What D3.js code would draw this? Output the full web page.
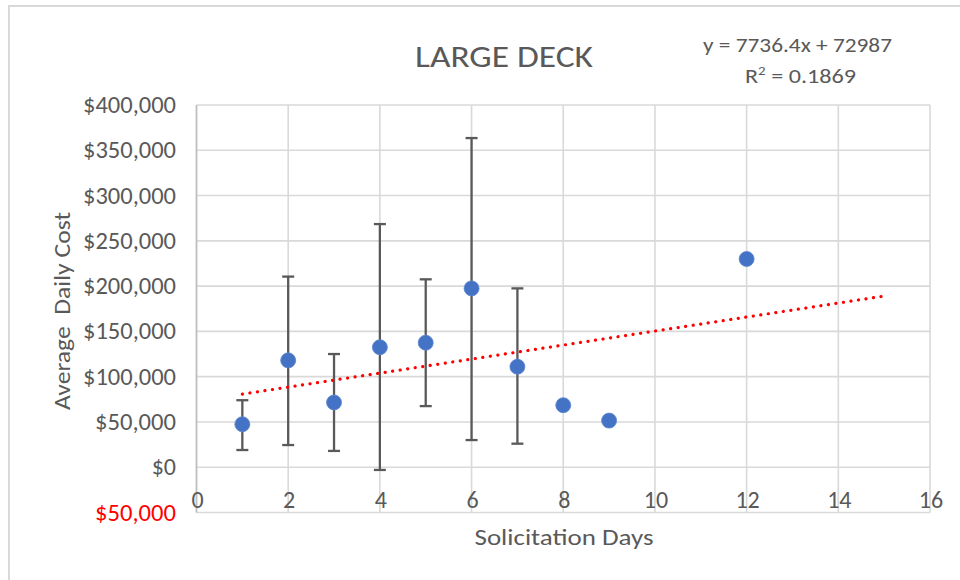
<!DOCTYPE html>
<html>
<head>
<meta charset="utf-8">
<script src="https://cdn.jsdelivr.net/npm/d3@7"></script>
<style>
  html, body { margin: 0; padding: 0; background: #ffffff; }
  svg { display: block; }
  text { font-family: Carlito, Calibri, "Liberation Sans", Arial, sans-serif; fill: #595959; }
</style>
</head>
<body>
<svg id="chart" width="960" height="580"></svg>
<script>
// ---- data ----
const titleText = "LARGE DECK";
const xAxisTitle = "Solicitation Days";
const yAxisTitle = "Average  Daily Cost";
const days = [1, 2, 3, 4, 5, 6, 7, 8, 9, 12];
const avgCost = [47500, 118000, 71500, 132500, 137500, 197500, 111000, 68500, 51500, 230000];
const errHigh = [74000, 210500, 125000, 268500, 207500, 363500, 197500, null, null, null];
const errLow  = [19000, 24500, 18000, -3000, 67500, 30000, 26000, null, null, null];
const xTicks = [0, 2, 4, 6, 8, 10, 12, 14, 16];
const yTicks = [-50000, 0, 50000, 100000, 150000, 200000, 250000, 300000, 350000, 400000];
const trendSlope = 7736.4;
const trendIntercept = 72987;
const trendRange = [1, 15];
const equationText = "y = 7736.4x + 72987";
const r2Value = "0.1869";

// ---- layout ----
const svg = d3.select("#chart");
const plot = { left: 196.5, right: 930, top: 105, bottom: 512.5 };

const x = d3.scaleLinear().domain([0, 16]).range([plot.left, plot.right]);
const y = d3.scaleLinear().domain([-50000, 400000]).range([plot.bottom, plot.top]);

// outer chart border
svg.append("rect")
  .attr("x", 9).attr("y", 6).attr("width", 1000).attr("height", 1000)
  .attr("fill", "none").attr("stroke", "#d9d9d9").attr("stroke-width", 2);

// gridlines
const grid = svg.append("g");
grid.selectAll("line.h").data(yTicks).join("line")
  .attr("x1", plot.left).attr("x2", plot.right)
  .attr("y1", d => y(d)).attr("y2", d => y(d))
  .attr("stroke", "#d9d9d9").attr("stroke-width", 1.6);
grid.selectAll("line.v").data(xTicks).join("line")
  .attr("y1", plot.top).attr("y2", plot.bottom)
  .attr("x1", d => x(d)).attr("x2", d => x(d))
  .attr("stroke", "#d9d9d9").attr("stroke-width", 1.6);
// left axis line
svg.append("line")
  .attr("x1", plot.left).attr("x2", plot.left)
  .attr("y1", plot.top).attr("y2", plot.bottom)
  .attr("stroke", "#bfbfbf").attr("stroke-width", 1.6);

// y tick labels
const fmt = d3.format("$,");
svg.append("g").selectAll("text").data(yTicks).join("text")
  .attr("x", 176).attr("y", d => y(d) + 8)
  .attr("text-anchor", "end")
  .attr("textLength", d => d === 0 ? null : (Math.abs(d) >= 100000 ? 93 : 81))
  .attr("lengthAdjust", "spacingAndGlyphs")
  .style("font-size", "24px")
  .style("fill", d => d < 0 ? "#ff0000" : "#595959")
  .text(d => fmt(Math.abs(d)));

// x tick labels
svg.append("g").selectAll("text").data(xTicks).join("text")
  .attr("x", d => x(d) + 1).attr("y", 508)
  .attr("text-anchor", "middle")
  .style("font-size", "24px")
  .text(d => d);

// error bars
const eb = days.map((d, i) => ({ x: d, hi: errHigh[i], lo: errLow[i] })).filter(d => d.hi !== null);
const ebG = svg.append("g").attr("stroke", "#595959").attr("stroke-width", 2.3);
ebG.selectAll("line.stem").data(eb).join("line")
  .attr("x1", d => x(d.x)).attr("x2", d => x(d.x))
  .attr("y1", d => y(d.hi)).attr("y2", d => y(d.lo));
ebG.selectAll("line.capHi").data(eb).join("line")
  .attr("x1", d => x(d.x) - 6).attr("x2", d => x(d.x) + 6)
  .attr("y1", d => y(d.hi)).attr("y2", d => y(d.hi));
ebG.selectAll("line.capLo").data(eb).join("line")
  .attr("x1", d => x(d.x) - 6).attr("x2", d => x(d.x) + 6)
  .attr("y1", d => y(d.lo)).attr("y2", d => y(d.lo));

// trendline
svg.append("line")
  .attr("x1", x(trendRange[0])).attr("y1", y(trendSlope * trendRange[0] + trendIntercept))
  .attr("x2", x(trendRange[1])).attr("y2", y(trendSlope * trendRange[1] + trendIntercept))
  .attr("stroke", "#ff0000").attr("stroke-width", 3.2)
  .attr("stroke-linecap", "round").attr("stroke-dasharray", "0.1 7.5");

// points
svg.append("g").selectAll("circle").data(days.map((d, i) => [d, avgCost[i]])).join("circle")
  .attr("cx", d => x(d[0])).attr("cy", d => y(d[1]))
  .attr("r", 7.5)
  .attr("fill", "#4472c4").attr("stroke", "#5b85cf").attr("stroke-width", 0.8);

// title
svg.append("text")
  .attr("x", 504).attr("y", 67).attr("text-anchor", "middle")
  .attr("textLength", 178).attr("lengthAdjust", "spacingAndGlyphs")
  .style("font-size", "30px")
  .text(titleText);

// equation
svg.append("text")
  .attr("x", 797.5).attr("y", 52).attr("text-anchor", "middle")
  .attr("textLength", 189).attr("lengthAdjust", "spacingAndGlyphs")
  .style("font-size", "21px")
  .text(equationText);
const r2 = svg.append("text")
  .attr("x", 800.5).attr("y", 83).attr("text-anchor", "middle")
  .attr("textLength", 111).attr("lengthAdjust", "spacingAndGlyphs")
  .style("font-size", "21px");
r2.append("tspan").text("R");
r2.append("tspan").attr("dy", -8).style("font-size", "13px").text("2");
r2.append("tspan").attr("dy", 8).text(" = " + r2Value);

// axis titles
svg.append("text")
  .attr("x", 564).attr("y", 545).attr("text-anchor", "middle")
  .attr("textLength", 179).attr("lengthAdjust", "spacingAndGlyphs")
  .style("font-size", "23px")
  .text(xAxisTitle);
svg.append("text")
  .attr("transform", "translate(70,311) rotate(-90)")
  .attr("text-anchor", "middle")
  .attr("textLength", 198).attr("lengthAdjust", "spacingAndGlyphs")
  .style("font-size", "23px").style("white-space", "pre")
  .text(yAxisTitle);
</script>
</body>
</html>
